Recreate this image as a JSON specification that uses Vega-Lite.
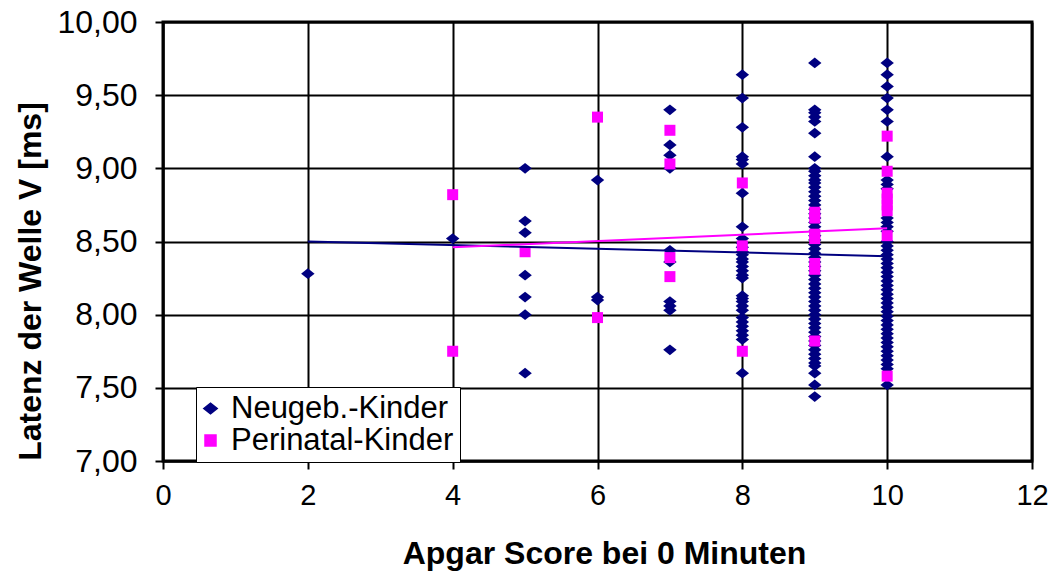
{
  "$schema": "https://vega.github.io/schema/vega-lite/v6.json",
  "autosize": {"type": "none"},
  "padding": {"left": 163, "top": 22, "right": 25, "bottom": 112},
  "width": 869,
  "height": 439,
  "background": "white",
  "config": {
    "font": "Liberation Sans",
    "view": {"stroke": "black", "strokeWidth": 3},
    "axis": {
      "domainColor": "black",
      "domainWidth": 2,
      "gridColor": "black",
      "gridOpacity": 1,
      "gridWidth": 2,
      "tickColor": "black",
      "tickWidth": 2,
      "tickSize": 8,
      "labelColor": "black",
      "titleColor": "black",
      "labelFont": "Liberation Sans",
      "titleFont": "Liberation Sans",
      "titleFontWeight": "bold",
      "labelFlush": false
    }
  },
  "datasets": {
    "messwerte": [
      {"apgar": 2, "latenz": 8.28, "gruppe": "Neugeb.-Kinder"},
      {"apgar": 4, "latenz": 8.52, "gruppe": "Neugeb.-Kinder"},
      {"apgar": 5, "latenz": 9.00, "gruppe": "Neugeb.-Kinder"},
      {"apgar": 5, "latenz": 8.64, "gruppe": "Neugeb.-Kinder"},
      {"apgar": 5, "latenz": 8.56, "gruppe": "Neugeb.-Kinder"},
      {"apgar": 5, "latenz": 8.27, "gruppe": "Neugeb.-Kinder"},
      {"apgar": 5, "latenz": 8.12, "gruppe": "Neugeb.-Kinder"},
      {"apgar": 5, "latenz": 8.00, "gruppe": "Neugeb.-Kinder"},
      {"apgar": 5, "latenz": 7.60, "gruppe": "Neugeb.-Kinder"},
      {"apgar": 6, "latenz": 8.92, "gruppe": "Neugeb.-Kinder"},
      {"apgar": 6, "latenz": 8.12, "gruppe": "Neugeb.-Kinder"},
      {"apgar": 6, "latenz": 8.10, "gruppe": "Neugeb.-Kinder"},
      {"apgar": 7, "latenz": 9.40, "gruppe": "Neugeb.-Kinder"},
      {"apgar": 7, "latenz": 9.16, "gruppe": "Neugeb.-Kinder"},
      {"apgar": 7, "latenz": 9.09, "gruppe": "Neugeb.-Kinder"},
      {"apgar": 7, "latenz": 9.00, "gruppe": "Neugeb.-Kinder"},
      {"apgar": 7, "latenz": 8.44, "gruppe": "Neugeb.-Kinder"},
      {"apgar": 7, "latenz": 8.36, "gruppe": "Neugeb.-Kinder"},
      {"apgar": 7, "latenz": 8.09, "gruppe": "Neugeb.-Kinder"},
      {"apgar": 7, "latenz": 8.06, "gruppe": "Neugeb.-Kinder"},
      {"apgar": 7, "latenz": 8.03, "gruppe": "Neugeb.-Kinder"},
      {"apgar": 7, "latenz": 7.76, "gruppe": "Neugeb.-Kinder"},
      {"apgar": 8, "latenz": 9.64, "gruppe": "Neugeb.-Kinder"},
      {"apgar": 8, "latenz": 9.48, "gruppe": "Neugeb.-Kinder"},
      {"apgar": 8, "latenz": 9.28, "gruppe": "Neugeb.-Kinder"},
      {"apgar": 8, "latenz": 9.08, "gruppe": "Neugeb.-Kinder"},
      {"apgar": 8, "latenz": 9.06, "gruppe": "Neugeb.-Kinder"},
      {"apgar": 8, "latenz": 9.03, "gruppe": "Neugeb.-Kinder"},
      {"apgar": 8, "latenz": 8.83, "gruppe": "Neugeb.-Kinder"},
      {"apgar": 8, "latenz": 8.60, "gruppe": "Neugeb.-Kinder"},
      {"apgar": 8, "latenz": 8.52, "gruppe": "Neugeb.-Kinder"},
      {"apgar": 8, "latenz": 8.49, "gruppe": "Neugeb.-Kinder"},
      {"apgar": 8, "latenz": 8.46, "gruppe": "Neugeb.-Kinder"},
      {"apgar": 8, "latenz": 8.43, "gruppe": "Neugeb.-Kinder"},
      {"apgar": 8, "latenz": 8.41, "gruppe": "Neugeb.-Kinder"},
      {"apgar": 8, "latenz": 8.38, "gruppe": "Neugeb.-Kinder"},
      {"apgar": 8, "latenz": 8.36, "gruppe": "Neugeb.-Kinder"},
      {"apgar": 8, "latenz": 8.33, "gruppe": "Neugeb.-Kinder"},
      {"apgar": 8, "latenz": 8.30, "gruppe": "Neugeb.-Kinder"},
      {"apgar": 8, "latenz": 8.27, "gruppe": "Neugeb.-Kinder"},
      {"apgar": 8, "latenz": 8.25, "gruppe": "Neugeb.-Kinder"},
      {"apgar": 8, "latenz": 8.13, "gruppe": "Neugeb.-Kinder"},
      {"apgar": 8, "latenz": 8.11, "gruppe": "Neugeb.-Kinder"},
      {"apgar": 8, "latenz": 8.09, "gruppe": "Neugeb.-Kinder"},
      {"apgar": 8, "latenz": 8.06, "gruppe": "Neugeb.-Kinder"},
      {"apgar": 8, "latenz": 8.03, "gruppe": "Neugeb.-Kinder"},
      {"apgar": 8, "latenz": 7.98, "gruppe": "Neugeb.-Kinder"},
      {"apgar": 8, "latenz": 7.95, "gruppe": "Neugeb.-Kinder"},
      {"apgar": 8, "latenz": 7.92, "gruppe": "Neugeb.-Kinder"},
      {"apgar": 8, "latenz": 7.89, "gruppe": "Neugeb.-Kinder"},
      {"apgar": 8, "latenz": 7.86, "gruppe": "Neugeb.-Kinder"},
      {"apgar": 8, "latenz": 7.83, "gruppe": "Neugeb.-Kinder"},
      {"apgar": 8, "latenz": 7.60, "gruppe": "Neugeb.-Kinder"},
      {"apgar": 9, "latenz": 9.72, "gruppe": "Neugeb.-Kinder"},
      {"apgar": 9, "latenz": 9.40, "gruppe": "Neugeb.-Kinder"},
      {"apgar": 9, "latenz": 9.38, "gruppe": "Neugeb.-Kinder"},
      {"apgar": 9, "latenz": 9.35, "gruppe": "Neugeb.-Kinder"},
      {"apgar": 9, "latenz": 9.32, "gruppe": "Neugeb.-Kinder"},
      {"apgar": 9, "latenz": 9.24, "gruppe": "Neugeb.-Kinder"},
      {"apgar": 9, "latenz": 9.08, "gruppe": "Neugeb.-Kinder"},
      {"apgar": 9, "latenz": 9.00, "gruppe": "Neugeb.-Kinder"},
      {"apgar": 9, "latenz": 8.98, "gruppe": "Neugeb.-Kinder"},
      {"apgar": 9, "latenz": 8.95, "gruppe": "Neugeb.-Kinder"},
      {"apgar": 9, "latenz": 8.92, "gruppe": "Neugeb.-Kinder"},
      {"apgar": 9, "latenz": 8.90, "gruppe": "Neugeb.-Kinder"},
      {"apgar": 9, "latenz": 8.87, "gruppe": "Neugeb.-Kinder"},
      {"apgar": 9, "latenz": 8.84, "gruppe": "Neugeb.-Kinder"},
      {"apgar": 9, "latenz": 8.81, "gruppe": "Neugeb.-Kinder"},
      {"apgar": 9, "latenz": 8.78, "gruppe": "Neugeb.-Kinder"},
      {"apgar": 9, "latenz": 8.75, "gruppe": "Neugeb.-Kinder"},
      {"apgar": 9, "latenz": 8.72, "gruppe": "Neugeb.-Kinder"},
      {"apgar": 9, "latenz": 8.69, "gruppe": "Neugeb.-Kinder"},
      {"apgar": 9, "latenz": 8.66, "gruppe": "Neugeb.-Kinder"},
      {"apgar": 9, "latenz": 8.63, "gruppe": "Neugeb.-Kinder"},
      {"apgar": 9, "latenz": 8.60, "gruppe": "Neugeb.-Kinder"},
      {"apgar": 9, "latenz": 8.57, "gruppe": "Neugeb.-Kinder"},
      {"apgar": 9, "latenz": 8.54, "gruppe": "Neugeb.-Kinder"},
      {"apgar": 9, "latenz": 8.51, "gruppe": "Neugeb.-Kinder"},
      {"apgar": 9, "latenz": 8.48, "gruppe": "Neugeb.-Kinder"},
      {"apgar": 9, "latenz": 8.45, "gruppe": "Neugeb.-Kinder"},
      {"apgar": 9, "latenz": 8.42, "gruppe": "Neugeb.-Kinder"},
      {"apgar": 9, "latenz": 8.39, "gruppe": "Neugeb.-Kinder"},
      {"apgar": 9, "latenz": 8.36, "gruppe": "Neugeb.-Kinder"},
      {"apgar": 9, "latenz": 8.33, "gruppe": "Neugeb.-Kinder"},
      {"apgar": 9, "latenz": 8.30, "gruppe": "Neugeb.-Kinder"},
      {"apgar": 9, "latenz": 8.27, "gruppe": "Neugeb.-Kinder"},
      {"apgar": 9, "latenz": 8.24, "gruppe": "Neugeb.-Kinder"},
      {"apgar": 9, "latenz": 8.21, "gruppe": "Neugeb.-Kinder"},
      {"apgar": 9, "latenz": 8.18, "gruppe": "Neugeb.-Kinder"},
      {"apgar": 9, "latenz": 8.15, "gruppe": "Neugeb.-Kinder"},
      {"apgar": 9, "latenz": 8.12, "gruppe": "Neugeb.-Kinder"},
      {"apgar": 9, "latenz": 8.09, "gruppe": "Neugeb.-Kinder"},
      {"apgar": 9, "latenz": 8.06, "gruppe": "Neugeb.-Kinder"},
      {"apgar": 9, "latenz": 8.03, "gruppe": "Neugeb.-Kinder"},
      {"apgar": 9, "latenz": 8.00, "gruppe": "Neugeb.-Kinder"},
      {"apgar": 9, "latenz": 7.97, "gruppe": "Neugeb.-Kinder"},
      {"apgar": 9, "latenz": 7.94, "gruppe": "Neugeb.-Kinder"},
      {"apgar": 9, "latenz": 7.91, "gruppe": "Neugeb.-Kinder"},
      {"apgar": 9, "latenz": 7.88, "gruppe": "Neugeb.-Kinder"},
      {"apgar": 9, "latenz": 7.85, "gruppe": "Neugeb.-Kinder"},
      {"apgar": 9, "latenz": 7.82, "gruppe": "Neugeb.-Kinder"},
      {"apgar": 9, "latenz": 7.79, "gruppe": "Neugeb.-Kinder"},
      {"apgar": 9, "latenz": 7.76, "gruppe": "Neugeb.-Kinder"},
      {"apgar": 9, "latenz": 7.73, "gruppe": "Neugeb.-Kinder"},
      {"apgar": 9, "latenz": 7.70, "gruppe": "Neugeb.-Kinder"},
      {"apgar": 9, "latenz": 7.67, "gruppe": "Neugeb.-Kinder"},
      {"apgar": 9, "latenz": 7.65, "gruppe": "Neugeb.-Kinder"},
      {"apgar": 9, "latenz": 7.60, "gruppe": "Neugeb.-Kinder"},
      {"apgar": 9, "latenz": 7.52, "gruppe": "Neugeb.-Kinder"},
      {"apgar": 9, "latenz": 7.44, "gruppe": "Neugeb.-Kinder"},
      {"apgar": 10, "latenz": 9.72, "gruppe": "Neugeb.-Kinder"},
      {"apgar": 10, "latenz": 9.64, "gruppe": "Neugeb.-Kinder"},
      {"apgar": 10, "latenz": 9.56, "gruppe": "Neugeb.-Kinder"},
      {"apgar": 10, "latenz": 9.48, "gruppe": "Neugeb.-Kinder"},
      {"apgar": 10, "latenz": 9.40, "gruppe": "Neugeb.-Kinder"},
      {"apgar": 10, "latenz": 9.32, "gruppe": "Neugeb.-Kinder"},
      {"apgar": 10, "latenz": 9.08, "gruppe": "Neugeb.-Kinder"},
      {"apgar": 10, "latenz": 8.92, "gruppe": "Neugeb.-Kinder"},
      {"apgar": 10, "latenz": 8.89, "gruppe": "Neugeb.-Kinder"},
      {"apgar": 10, "latenz": 8.86, "gruppe": "Neugeb.-Kinder"},
      {"apgar": 10, "latenz": 8.66, "gruppe": "Neugeb.-Kinder"},
      {"apgar": 10, "latenz": 8.63, "gruppe": "Neugeb.-Kinder"},
      {"apgar": 10, "latenz": 8.60, "gruppe": "Neugeb.-Kinder"},
      {"apgar": 10, "latenz": 8.57, "gruppe": "Neugeb.-Kinder"},
      {"apgar": 10, "latenz": 8.50, "gruppe": "Neugeb.-Kinder"},
      {"apgar": 10, "latenz": 8.47, "gruppe": "Neugeb.-Kinder"},
      {"apgar": 10, "latenz": 8.44, "gruppe": "Neugeb.-Kinder"},
      {"apgar": 10, "latenz": 8.41, "gruppe": "Neugeb.-Kinder"},
      {"apgar": 10, "latenz": 8.38, "gruppe": "Neugeb.-Kinder"},
      {"apgar": 10, "latenz": 8.35, "gruppe": "Neugeb.-Kinder"},
      {"apgar": 10, "latenz": 8.32, "gruppe": "Neugeb.-Kinder"},
      {"apgar": 10, "latenz": 8.29, "gruppe": "Neugeb.-Kinder"},
      {"apgar": 10, "latenz": 8.26, "gruppe": "Neugeb.-Kinder"},
      {"apgar": 10, "latenz": 8.23, "gruppe": "Neugeb.-Kinder"},
      {"apgar": 10, "latenz": 8.20, "gruppe": "Neugeb.-Kinder"},
      {"apgar": 10, "latenz": 8.17, "gruppe": "Neugeb.-Kinder"},
      {"apgar": 10, "latenz": 8.14, "gruppe": "Neugeb.-Kinder"},
      {"apgar": 10, "latenz": 8.11, "gruppe": "Neugeb.-Kinder"},
      {"apgar": 10, "latenz": 8.08, "gruppe": "Neugeb.-Kinder"},
      {"apgar": 10, "latenz": 8.05, "gruppe": "Neugeb.-Kinder"},
      {"apgar": 10, "latenz": 8.02, "gruppe": "Neugeb.-Kinder"},
      {"apgar": 10, "latenz": 7.99, "gruppe": "Neugeb.-Kinder"},
      {"apgar": 10, "latenz": 7.96, "gruppe": "Neugeb.-Kinder"},
      {"apgar": 10, "latenz": 7.93, "gruppe": "Neugeb.-Kinder"},
      {"apgar": 10, "latenz": 7.90, "gruppe": "Neugeb.-Kinder"},
      {"apgar": 10, "latenz": 7.87, "gruppe": "Neugeb.-Kinder"},
      {"apgar": 10, "latenz": 7.84, "gruppe": "Neugeb.-Kinder"},
      {"apgar": 10, "latenz": 7.81, "gruppe": "Neugeb.-Kinder"},
      {"apgar": 10, "latenz": 7.78, "gruppe": "Neugeb.-Kinder"},
      {"apgar": 10, "latenz": 7.75, "gruppe": "Neugeb.-Kinder"},
      {"apgar": 10, "latenz": 7.72, "gruppe": "Neugeb.-Kinder"},
      {"apgar": 10, "latenz": 7.69, "gruppe": "Neugeb.-Kinder"},
      {"apgar": 10, "latenz": 7.66, "gruppe": "Neugeb.-Kinder"},
      {"apgar": 10, "latenz": 7.63, "gruppe": "Neugeb.-Kinder"},
      {"apgar": 10, "latenz": 7.52, "gruppe": "Neugeb.-Kinder"},
      {"apgar": 4, "latenz": 8.82, "gruppe": "Perinatal-Kinder"},
      {"apgar": 4, "latenz": 7.75, "gruppe": "Perinatal-Kinder"},
      {"apgar": 5, "latenz": 8.43, "gruppe": "Perinatal-Kinder"},
      {"apgar": 6, "latenz": 9.35, "gruppe": "Perinatal-Kinder"},
      {"apgar": 6, "latenz": 7.98, "gruppe": "Perinatal-Kinder"},
      {"apgar": 7, "latenz": 9.26, "gruppe": "Perinatal-Kinder"},
      {"apgar": 7, "latenz": 9.03, "gruppe": "Perinatal-Kinder"},
      {"apgar": 7, "latenz": 8.39, "gruppe": "Perinatal-Kinder"},
      {"apgar": 7, "latenz": 8.26, "gruppe": "Perinatal-Kinder"},
      {"apgar": 8, "latenz": 8.90, "gruppe": "Perinatal-Kinder"},
      {"apgar": 8, "latenz": 8.47, "gruppe": "Perinatal-Kinder"},
      {"apgar": 8, "latenz": 7.75, "gruppe": "Perinatal-Kinder"},
      {"apgar": 9, "latenz": 8.70, "gruppe": "Perinatal-Kinder"},
      {"apgar": 9, "latenz": 8.66, "gruppe": "Perinatal-Kinder"},
      {"apgar": 9, "latenz": 8.55, "gruppe": "Perinatal-Kinder"},
      {"apgar": 9, "latenz": 8.52, "gruppe": "Perinatal-Kinder"},
      {"apgar": 9, "latenz": 8.35, "gruppe": "Perinatal-Kinder"},
      {"apgar": 9, "latenz": 8.31, "gruppe": "Perinatal-Kinder"},
      {"apgar": 9, "latenz": 7.82, "gruppe": "Perinatal-Kinder"},
      {"apgar": 10, "latenz": 9.22, "gruppe": "Perinatal-Kinder"},
      {"apgar": 10, "latenz": 8.98, "gruppe": "Perinatal-Kinder"},
      {"apgar": 10, "latenz": 8.83, "gruppe": "Perinatal-Kinder"},
      {"apgar": 10, "latenz": 8.79, "gruppe": "Perinatal-Kinder"},
      {"apgar": 10, "latenz": 8.75, "gruppe": "Perinatal-Kinder"},
      {"apgar": 10, "latenz": 8.71, "gruppe": "Perinatal-Kinder"},
      {"apgar": 10, "latenz": 8.54, "gruppe": "Perinatal-Kinder"},
      {"apgar": 10, "latenz": 7.58, "gruppe": "Perinatal-Kinder"}
    ],
    "trend": [
      {"apgar": 2, "latenz": 8.50, "gruppe": "Neugeb.-Kinder"},
      {"apgar": 10, "latenz": 8.40, "gruppe": "Neugeb.-Kinder"},
      {"apgar": 4, "latenz": 8.46, "gruppe": "Perinatal-Kinder"},
      {"apgar": 10, "latenz": 8.59, "gruppe": "Perinatal-Kinder"}
    ]
  },
  "layer": [
    {
      "data": {"name": "messwerte"},
      "mark": {"type": "point", "filled": true, "opacity": 1},
      "encoding": {
        "x": {
          "field": "apgar",
          "type": "quantitative",
          "scale": {"domain": [0, 12], "nice": false, "zero": false},
          "axis": {
            "values": [0, 2, 4, 6, 8, 10, 12],
            "format": "d",
            "title": "Apgar Score bei 0 Minuten",
            "titleFontSize": 32,
            "titleX": 441,
            "titleY": 92,
            "titleBaseline": "middle",
            "labelFontSize": 29,
            "labelPadding": 12,
            "grid": true
          }
        },
        "y": {
          "field": "latenz",
          "type": "quantitative",
          "scale": {"domain": [7, 10], "nice": false, "zero": false},
          "axis": {
            "values": [7, 7.5, 8, 8.5, 9, 9.5, 10],
            "labelExpr": "replace(format(datum.value, '.2f'), '.', ',')",
            "title": "Latenz der Welle V [ms]",
            "titleFontSize": 32,
            "titleAngle": 270,
            "titleX": -133,
            "titleY": 259,
            "titleBaseline": "middle",
            "titleAlign": "center",
            "labelFontSize": 32,
            "labelPadding": 18,
            "grid": true
          }
        },
        "color": {
          "field": "gruppe",
          "type": "nominal",
          "scale": {"domain": ["Neugeb.-Kinder", "Perinatal-Kinder"], "range": ["#000080", "#FF00FF"]},
          "legend": {
            "title": null,
            "orient": "none",
            "legendX": 33,
            "legendY": 365,
            "fillColor": "white",
            "strokeColor": "black",
            "padding": 6,
            "labelFontSize": 31,
            "labelColor": "black",
            "labelFont": "Liberation Sans",
            "labelLimit": 400,
            "rowPadding": 0,
            "symbolOffset": -7,
            "labelOffset": 5,
            "encode": {"legend": {"update": {"strokeWidth": {"value": 2}}}}
          }
        },
        "shape": {
          "field": "gruppe",
          "type": "nominal",
          "scale": {"domain": ["Neugeb.-Kinder", "Perinatal-Kinder"], "range": ["M-1,0L0,-0.8L1,0L0,0.8Z", "square"]}
        },
        "size": {
          "field": "gruppe",
          "type": "nominal",
          "scale": {"domain": ["Neugeb.-Kinder", "Perinatal-Kinder"], "range": [180, 121]},
          "legend": null
        }
      }
    },
    {
      "data": {"name": "trend"},
      "mark": {"type": "line", "strokeWidth": 2},
      "encoding": {
        "x": {"field": "apgar", "type": "quantitative"},
        "y": {"field": "latenz", "type": "quantitative"},
        "detail": {"field": "gruppe", "type": "nominal"},
        "stroke": {
          "field": "gruppe",
          "type": "nominal",
          "scale": {"domain": ["Neugeb.-Kinder", "Perinatal-Kinder"], "range": ["#000080", "#FF00FF"]},
          "legend": null
        }
      }
    }
  ]
}
